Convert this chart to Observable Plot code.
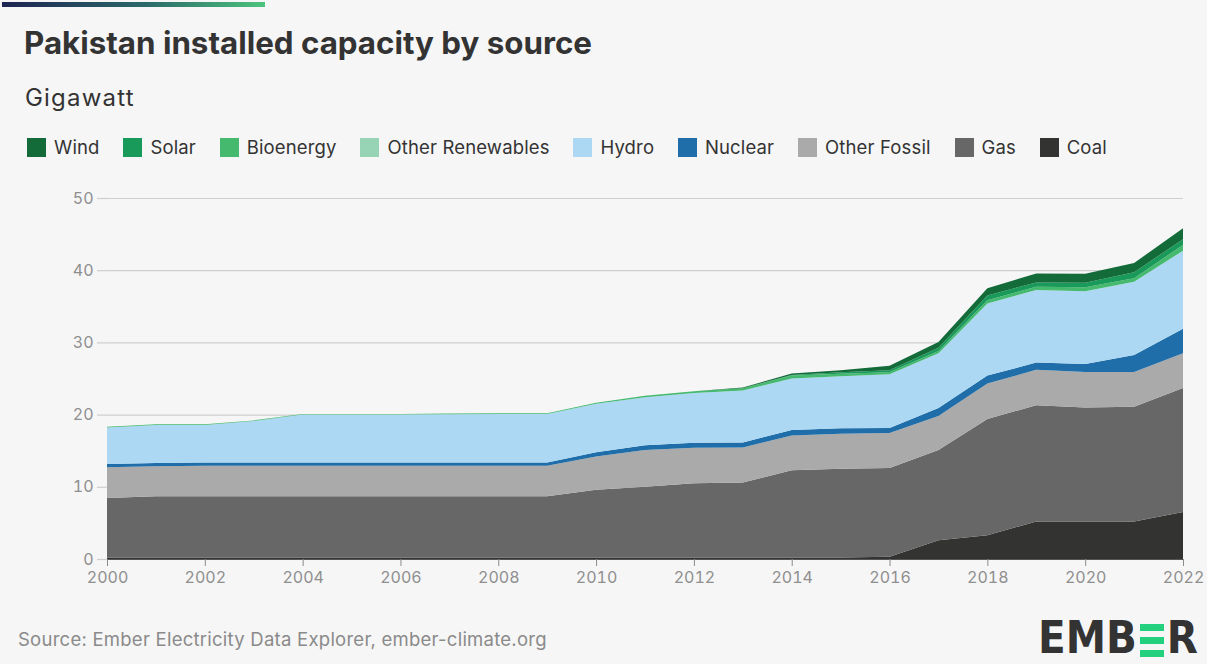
<!DOCTYPE html>
<html>
<head>
<meta charset="utf-8">
<script src="https://cdn.jsdelivr.net/npm/d3@7"></script>
<script src="https://cdn.jsdelivr.net/npm/@observablehq/plot@0.6"></script>
<style>
  html, body { margin: 0; padding: 0; background: #f6f6f6; }
  #page { position: relative; width: 1207px; height: 664px; background: #f6f6f6; overflow: hidden; font-family: Inter, "Noto Sans", sans-serif; color: #333; }
  #bar { position: absolute; left: 2px; top: 2px; width: 263px; height: 5px; background: linear-gradient(90deg, #1d2452, #2a6a6a 55%, #4cc47c); }
  #title { position: absolute; left: 24px; top: 24px; font-family: Inter, sans-serif; font-weight: 700; font-size: 31.3px; color: #333; letter-spacing: 0px; }
  #subtitle { position: absolute; left: 25px; top: 83px; font-size: 24px; color: #333; letter-spacing: 1.2px; }
  #legend { position: absolute; left: 27px; top: 136px; display: flex; align-items: center; font-size: 18.5px; letter-spacing: 0.15px; color: #333; }
  .item { display: flex; align-items: center; margin-right: 23.8px; }
  .sw { width: 19px; height: 19px; margin-right: 8px; }
  #chart { position: absolute; left: 0; top: 175px; }
  #source { position: absolute; left: 18px; top: 628px; font-size: 18.5px; letter-spacing: 0.25px; color: #8a8a8a; }
  #logo { position: absolute; left: 1038px; top: 615px; display: flex; align-items: flex-end; font-family: "DejaVu Sans Condensed", "DejaVu Sans", sans-serif; font-stretch: condensed; font-weight: 700; font-size: 45px; color: #333; line-height: 1; }
  #logo svg { margin: 0 3px 3px 3px; }
</style>
</head>
<body>
<div id="page">
  <div id="bar"></div>
  <div id="title">Pakistan installed capacity by source</div>
  <div id="subtitle">Gigawatt</div>
  <div id="legend"></div>
  <div id="chart"></div>
  <div id="source">Source: Ember Electricity Data Explorer, ember-climate.org</div>
  <div id="logo"><span>EMB</span><svg width="24" height="33" viewBox="0 0 24 33"><rect x="0" y="0" width="24" height="7" fill="#22d07e"/><rect x="0" y="13" width="24" height="7" fill="#22d07e"/><rect x="0" y="26" width="24" height="7" fill="#22d07e"/></svg><span>R</span></div>
</div>
<script>
const years = [2000,2001,2002,2003,2004,2005,2006,2007,2008,2009,2010,2011,2012,2013,2014,2015,2016,2017,2018,2019,2020,2021,2022];
const xTicks = [2000,2002,2004,2006,2008,2010,2012,2014,2016,2018,2020,2022];
const yTicks = [0,10,20,30,40,50];

const seriesNames = ["Wind","Solar","Bioenergy","Other Renewables","Hydro","Nuclear","Other Fossil","Gas","Coal"];
const seriesColors = ["#136b3a","#1a9a5a","#45b96e","#97d3b5","#acd8f3","#1f6ea9","#a9aaa9","#676767","#333331"];

const coal = [0.2,0.2,0.2,0.2,0.2,0.2,0.2,0.2,0.2,0.2,0.2,0.2,0.2,0.2,0.2,0.2,0.3,2.6,3.3,5.2,5.2,5.2,6.5];
const gas = [8.25,8.5,8.5,8.5,8.5,8.5,8.5,8.5,8.5,8.5,9.4,9.8,10.3,10.4,12.1,12.3,12.3,12.5,16.1,16.1,15.8,15.9,17.2];
const otherFossil = [4.25,4.15,4.2,4.2,4.2,4.2,4.2,4.2,4.2,4.2,4.6,5.1,4.9,4.85,4.8,4.85,4.85,4.7,4.9,4.9,4.9,4.8,4.8];
const nuclear = [0.45,0.45,0.45,0.45,0.45,0.45,0.45,0.45,0.45,0.45,0.6,0.65,0.7,0.7,0.75,0.75,0.7,1.1,1.1,1.0,1.1,2.35,3.4];
const hydro = [5.05,5.25,5.2,5.75,6.65,6.65,6.65,6.7,6.75,6.75,6.7,6.65,6.9,7.2,7.15,7.2,7.45,7.6,10.0,10.05,10.1,10.15,10.8];
const otherRenewables = [0,0,0,0,0,0,0,0,0,0,0,0,0,0,0,0,0,0,0,0,0,0,0];
const bioenergy = [0.1,0.1,0.1,0.1,0.1,0.1,0.1,0.1,0.1,0.1,0.15,0.2,0.25,0.3,0.4,0.35,0.25,0.3,0.45,0.45,0.55,0.5,0.8];
const solar = [0,0,0,0,0,0,0,0,0,0,0,0,0,0,0.1,0.2,0.3,0.45,0.65,0.6,0.6,0.8,0.8];
const wind = [0,0,0,0,0,0,0,0,0,0,0,0,0,0.1,0.2,0.3,0.6,0.8,1.0,1.25,1.25,1.3,1.5];

const seriesValues = {
  "Coal": coal, "Gas": gas, "Other Fossil": otherFossil, "Nuclear": nuclear, "Hydro": hydro,
  "Other Renewables": otherRenewables, "Bioenergy": bioenergy, "Solar": solar, "Wind": wind
};
const stackOrder = seriesNames.slice().reverse(); // bottom to top

const rows = [];
for (const s of stackOrder) {
  years.forEach((y, i) => rows.push({year: y, series: s, value: seriesValues[s][i]}));
}

// legend
const legend = document.getElementById("legend");
seriesNames.forEach((n, i) => {
  const it = document.createElement("div");
  it.className = "item";
  it.innerHTML = `<div class="sw" style="background:${seriesColors[i]}"></div><span>${n}</span>`;
  legend.appendChild(it);
});

const chart = Plot.plot({
  width: 1207,
  height: 425,
  marginLeft: 107,
  marginRight: 24,
  marginTop: 23,
  marginBottom: 41,
  style: {background: "transparent", fontFamily: "Inter, 'Noto Sans', sans-serif"},
  x: {domain: [2000, 2022]},
  y: {domain: [0, 50]},
  color: {domain: seriesNames, range: seriesColors},
  marks: [
    Plot.gridY(yTicks, {stroke: "#cfcfcf", strokeOpacity: 1, strokeWidth: 1.2}),
    Plot.axisY(yTicks, {tickSize: 10, stroke: "#cfcfcf", strokeWidth: 1.2, tickPadding: 4, fontSize: 16, fill: "#8f8f8f", label: null}),
    Plot.areaY(rows, Plot.stackY({order: stackOrder}, {x: "year", y: "value", z: "series", fill: "series", curve: "linear"})),
    Plot.ruleY([0], {stroke: "#555", strokeWidth: 1.2}),
    Plot.axisX(xTicks, {tickSize: 7, stroke: "#8a8a8a", tickPadding: 5, fontSize: 16, fill: "#8f8f8f", tickFormat: d => String(d), label: null})
  ]
});
document.getElementById("chart").appendChild(chart);
</script>
</body>
</html>
